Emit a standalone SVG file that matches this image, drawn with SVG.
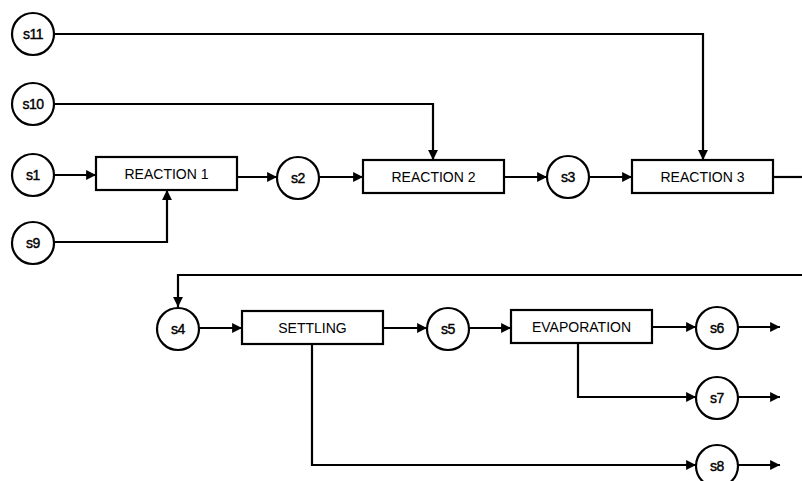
<svg xmlns="http://www.w3.org/2000/svg" width="802" height="481" viewBox="0 0 802 481">
<style>
.n{fill:#fff;stroke:#000;stroke-width:2.2}
.t{font-family:"Liberation Sans",Arial,sans-serif;font-size:14px;fill:#000;text-anchor:middle;dominant-baseline:central}
.s{stroke:#000;stroke-width:0.4;letter-spacing:-0.5px}
.c{fill:none;stroke:#000;stroke-width:2.2}
</style>
<defs>
<marker id="a" viewBox="0 0 10 10" refX="10" refY="5" markerWidth="4.5" markerHeight="4.5" orient="auto" markerUnits="strokeWidth">
<path d="M0,0 L10,5 L0,10 z" fill="#000"/>
</marker>
</defs>
<rect width="802" height="481" fill="#fff"/>
<g id="connectors">
<path class="c" marker-end="url(#a)" d="M54,34 H703 V160"/>
<path class="c" marker-end="url(#a)" d="M54,104 H433 V160"/>
<path class="c" marker-end="url(#a)" d="M54,175 H96"/>
<path class="c" marker-end="url(#a)" d="M54,242 H167 V190"/>
<path class="c" marker-end="url(#a)" d="M237,177 H277"/>
<path class="c" marker-end="url(#a)" d="M319,177 H363"/>
<path class="c" marker-end="url(#a)" d="M504,177 H547"/>
<path class="c" marker-end="url(#a)" d="M589,177 H632"/>
<path class="c" d="M773,177 H802"/>
<path class="c" marker-end="url(#a)" d="M802,275 H178 V307"/>
<path class="c" marker-end="url(#a)" d="M199,328 H242"/>
<path class="c" marker-end="url(#a)" d="M383,328 H427"/>
<path class="c" marker-end="url(#a)" d="M469,328 H511"/>
<path class="c" marker-end="url(#a)" d="M652,327 H696"/>
<path class="c" marker-end="url(#a)" d="M738,327 H780"/>
<path class="c" marker-end="url(#a)" d="M578,343 V397 H696"/>
<path class="c" marker-end="url(#a)" d="M738,397 H780"/>
<path class="c" marker-end="url(#a)" d="M312,344 V465 H696"/>
<path class="c" marker-end="url(#a)" d="M738,465 H780"/>
</g>
<g id="s11"><circle class="n" cx="33" cy="34" r="21"/><text class="t s" x="33" y="34">s11</text></g>
<g id="s10"><circle class="n" cx="33" cy="104" r="21"/><text class="t s" x="33" y="104">s10</text></g>
<g id="s1"><circle class="n" cx="33" cy="175" r="21"/><text class="t s" x="33" y="175">s1</text></g>
<g id="s9"><circle class="n" cx="33" cy="243" r="21"/><text class="t s" x="33" y="243">s9</text></g>
<g id="reaction1"><rect class="n" x="96" y="157" width="141" height="33"/><text class="t" x="166.5" y="173.5">REACTION 1</text></g>
<g id="s2"><circle class="n" cx="298" cy="178" r="21"/><text class="t s" x="298" y="178">s2</text></g>
<g id="reaction2"><rect class="n" x="363" y="160" width="141" height="33"/><text class="t" x="433.5" y="177">REACTION 2</text></g>
<g id="s3"><circle class="n" cx="568" cy="177" r="21"/><text class="t s" x="568" y="177">s3</text></g>
<g id="reaction3"><rect class="n" x="632" y="160" width="141" height="33"/><text class="t" x="702.5" y="177">REACTION 3</text></g>
<g id="s4"><circle class="n" cx="178" cy="329" r="21"/><text class="t s" x="178" y="329">s4</text></g>
<g id="settling"><rect class="n" x="242" y="311" width="141" height="33"/><text class="t" x="312.5" y="328">SETTLING</text></g>
<g id="s5"><circle class="n" cx="448" cy="329" r="21"/><text class="t s" x="448" y="329">s5</text></g>
<g id="evaporation"><rect class="n" x="511" y="310" width="141" height="33"/><text class="t" x="581.5" y="327">EVAPORATION</text></g>
<g id="s6"><circle class="n" cx="717" cy="328" r="21"/><text class="t s" x="717" y="328">s6</text></g>
<g id="s7"><circle class="n" cx="717" cy="398" r="21"/><text class="t s" x="717" y="398">s7</text></g>
<g id="s8"><circle class="n" cx="717" cy="466" r="21"/><text class="t s" x="717" y="466">s8</text></g>
</svg>
